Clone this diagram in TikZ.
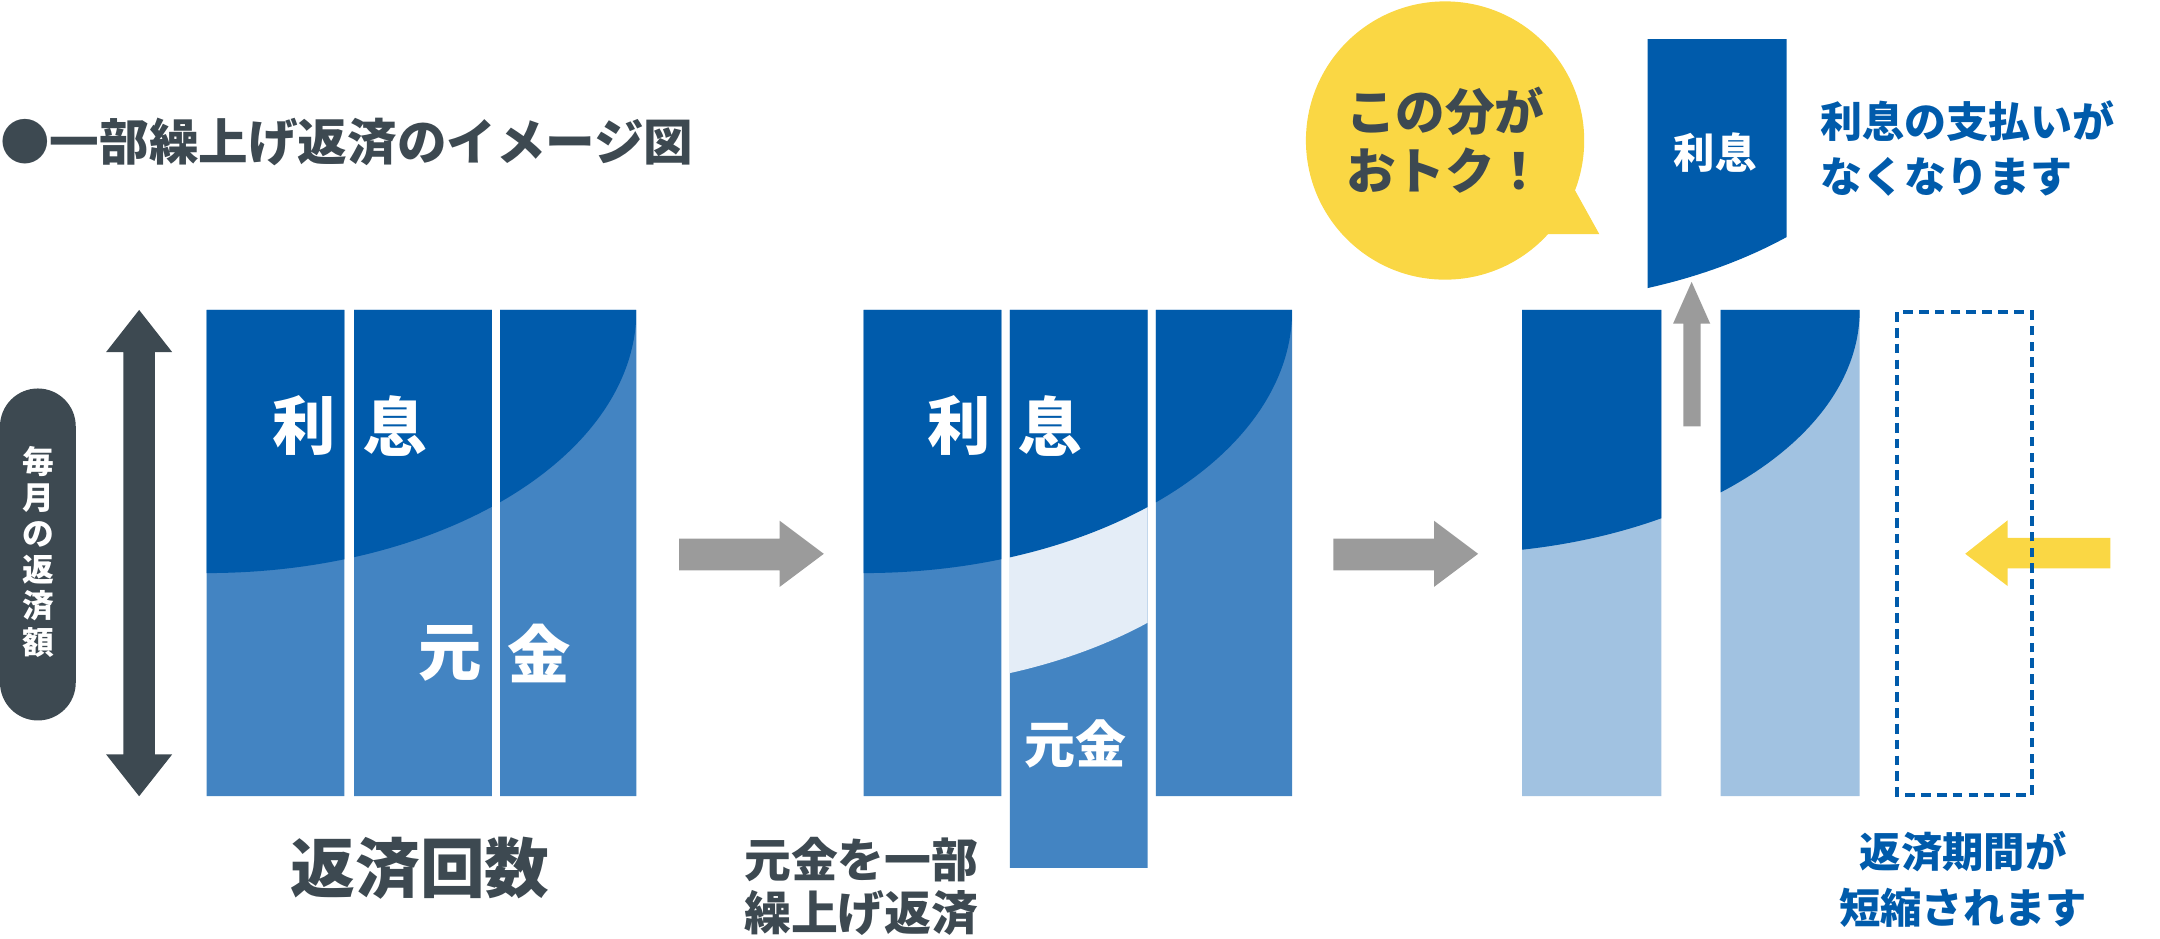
\documentclass[tikz,border=0pt]{standalone}
\usepackage{fontspec}
\setmainfont{Noto Sans CJK JP}
\definecolor{dblue}{HTML}{005BAB}
\definecolor{mblue}{HTML}{4384C2}
\definecolor{pblue}{HTML}{E4EDF7}
\definecolor{lblue}{HTML}{A1C2E1}
\definecolor{agray}{HTML}{9B9B9B}
\definecolor{dgray}{HTML}{3D4951}
\definecolor{ylw}{HTML}{FAD744}
\tikzset{
  lbl/.style={inner sep=0pt, font=\bfseries\fontsize{#1}{#1}\selectfont},
  wlbl/.style={lbl=#1, text=white},
  glbl/.style={lbl=#1, text=dgray},
  blbl/.style={lbl=#1, text=dblue},
}
\begin{document}
\begin{tikzpicture}[x=1pt,y=-1pt]
\useasboundingbox (0,0) rectangle (1568,681);

% title
\node[glbl=36, anchor=west] (title) at (0,103) {●一部繰上げ返済のイメージ図};

% left pill and double arrow
\fill[dgray, rounded corners=27.5pt] (0,282) rectangle (55,523);
\node[wlbl=23, align=center, font=\bfseries\fontsize{23}{26.2}\selectfont] (amount) at (27.5,400.5) {毎\\月\\の\\返\\済\\額};
\fill[dgray] (101,225) -- (125,255.6) -- (112.5,255.6) -- (112.5,547.6) -- (125,547.6) -- (101,578)
  -- (77,547.6) -- (89.5,547.6) -- (89.5,255.6) -- (77,255.6) -- cycle;

% ---------- panel 1 ----------
\fill[mblue] (150,225) rectangle (250,578) (257,225) rectangle (357,578) (363,225) rectangle (462,578);
\begin{scope}
  \clip (150,225) rectangle (250,578) (257,225) rectangle (357,578) (363,225) rectangle (462,578);
  \fill[dblue] (150,225) ellipse [x radius=312pt, y radius=191pt];
\end{scope}
\node[wlbl=46] (p1ri) at (221,309) {利};
\node[wlbl=46] (p1soku) at (287,309) {息};
\node[wlbl=46] (p1gen) at (326.5,474.5) {元};
\node[wlbl=46] (p1kin) at (391.5,474.5) {金};
\node[glbl=47] (count) at (305,630) {返済回数};

% arrow 1
\fill[agray] (493,391) -- (566,391) -- (566,378) -- (598,402) -- (566,426) -- (566,414) -- (493,414) -- cycle;

% ---------- panel 2 ----------
\fill[mblue] (627,225) rectangle (727,578) (733,225) rectangle (833,630) (839,225) rectangle (938,578);
\begin{scope}
  \clip (733,225) rectangle (833,630);
  \fill[pblue] (627,309) ellipse [x radius=311pt, y radius=191pt];
\end{scope}
\begin{scope}
  \clip (627,225) rectangle (727,578) (733,225) rectangle (833,630) (839,225) rectangle (938,578);
  \fill[dblue] (627,225) ellipse [x radius=311pt, y radius=191pt];
\end{scope}
\node[wlbl=46] (p2ri) at (696.5,309) {利};
\node[wlbl=46] (p2soku) at (762,309) {息};
\node[wlbl=37] (p2genkin) at (781,540) {元金};
\node[glbl=34, align=left, font=\bfseries\fontsize{34}{39}\selectfont, anchor=west] (prepay) at (540,643.5) {元金を一部\\繰上げ返済};

% arrow 2
\fill[agray] (968,391) -- (1041,391) -- (1041,378) -- (1073,402) -- (1041,426) -- (1041,414) -- (968,414) -- cycle;

% ---------- panel 3 ----------
\fill[lblue] (1105,225) rectangle (1206,578) (1249,225) rectangle (1350,578);
\begin{scope}
  \clip (1105,225) rectangle (1206,578) (1249,225) rectangle (1350,578);
  \fill[dblue] (1050,225) ellipse [x radius=300pt, y radius=177pt];
\end{scope}

% removed interest piece
\begin{scope}
  \clip (1196,28.5) rectangle (1297,260);
  \fill[dblue] (1090,29.5) ellipse [x radius=311pt, y radius=191pt];
\end{scope}
\node[wlbl=30] (piece) at (1245,111) {利息};

% up arrow
\fill[agray] (1228,204.6) -- (1241.5,235) -- (1234.5,235) -- (1234.5,309.5) -- (1222,309.5) -- (1222,235) -- (1214.5,235) -- cycle;

% yellow left arrow
\fill[ylw] (1426.6,402) -- (1457.4,377.7) -- (1457.4,390.4) -- (1532,390.4) -- (1532,412.6) -- (1457.4,412.6) -- (1457.4,425.4) -- cycle;

% dashed removed bar
\draw[dblue, line width=2.5pt, dash pattern=on 7pt off 4.5pt] (1377,226.5) rectangle (1475,577);

% speech bubble
\fill[ylw] (1049,102) circle [radius=101pt];
\fill[ylw] (1136,125) -- (1161,170) -- (1118,170) -- (1090,150) -- cycle;
\node[glbl=36, align=left, font=\bfseries\fontsize{36}{43}\selectfont, anchor=west] (bubble) at (977,101.5) {この分が\\おトク！};

% blue texts
\node[blbl=30.5, align=left, font=\bfseries\fontsize{30.5}{40}\selectfont, anchor=west] (nointerest) at (1321,108) {利息の支払いが\\なくなります};
\node[blbl=30, align=center, font=\bfseries\fontsize{30}{41}\selectfont] (shorter) at (1425,638.5) {返済期間が\\短縮されます};
\end{tikzpicture}
\end{document}
